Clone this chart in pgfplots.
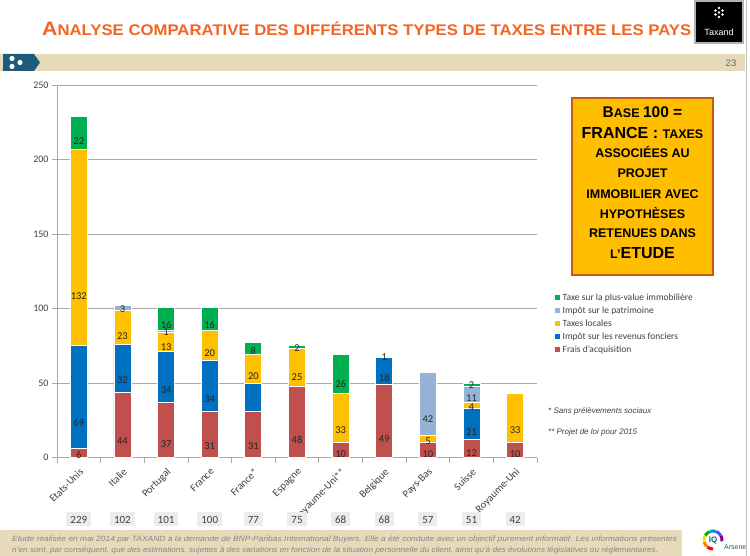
\documentclass[border=0pt]{standalone}
\usepackage{pgfplots}
\usepackage{pgfplotstable}
\pgfplotsset{compat=1.18}
\usepackage{fontspec}
\setmainfont{Carlito}
\newfontfamily\arialf{Liberation Sans}
\definecolor{cred}{RGB}{192,80,77}
\definecolor{cblue}{RGB}{0,112,192}
\definecolor{cyel}{RGB}{255,192,0}
\definecolor{clight}{RGB}{149,179,215}
\definecolor{cgreen}{RGB}{0,176,80}
\definecolor{gridc}{RGB}{170,170,170}
\definecolor{ttl}{RGB}{242,101,34}
\definecolor{beige}{RGB}{230,218,186}
\definecolor{tealc}{RGB}{28,92,122}
\definecolor{boxfill}{RGB}{255,190,0}
\definecolor{boxdraw}{RGB}{200,90,20}
\definecolor{txt}{RGB}{64,64,64}
\definecolor{foot}{RGB}{135,135,135}
\definecolor{pgnum}{RGB}{90,110,110}
\newcommand\fs[1]{\fontsize{#1bp}{#1bp}\selectfont}
\newsavebox\mybox
\newlength\mylen
\newcommand\fitx[2]{\sbox\mybox{#2}\setlength\mylen{\wd\mybox}\pgfmathsetmacro\myfx{#1/\mylen}\scalebox{\myfx}[1]{\usebox\mybox}}

\pgfplotstableread{
x v lab
0 6 6
1 44 44
2 37 37
3 31 31
4 31 31
5 48 48
6 10 10
7 49 49
8 10 10
9 12 12
10 10 10
}\tred
\pgfplotstableread{
x v lab
0 69 69
1 32 32
2 34 34
3 34 34
4 18.5 {}
5 0 {}
6 0 {}
7 18 18
8 0 {}
9 21 21
10 0 {}
}\tblue
\pgfplotstableread{
x v lab
0 132 132
1 23 23
2 13 13
3 20 20
4 20 20
5 25 25
6 33 33
7 1 1
8 5 5
9 4 4
10 33 33
}\tyel
\pgfplotstableread{
x v lab
0 0 {}
1 3 3
2 1 1
3 0 {}
4 0 {}
5 0 {}
6 0 {}
7 0 {}
8 42 42
9 11 11
10 0 {}
}\tlight
\pgfplotstableread{
x v lab
0 22 22
1 0 {}
2 16 16
3 16 16
4 8 8
5 2 2
6 26 26
7 0 {}
8 0 {}
9 2 2
10 0 {}
}\tgreen
\pgfplotstableread{
x y lab
0 -41.3 229
1 -41.3 102
2 -41.3 101
3 -41.3 100
4 -41.3 77
5 -41.3 75
6 -41.3 68
7 -41.3 68
8 -41.3 57
9 -41.3 51
10 -41.3 42
}\ttot

\begin{document}
\begin{tikzpicture}
\begin{scope}[x=1bp,y=-1bp]
\path[use as bounding box] (0,0) rectangle (750,556);
\fill[white] (0,0) rectangle (750,556);
% title
\node[anchor=base west, inner sep=0, text=ttl, font=\arialf\bfseries] at (42,36)
  {\fitx{649bp}{\fs{19.5}A\fs{15.4}NALYSE COMPARATIVE DES DIFFÉRENTS TYPES DE TAXES ENTRE LES PAYS}};
% Taxand logo
\fill[black] (695,1) rectangle (743,43);
\draw[gray!60, line width=1.2] (695,1) rectangle (743,43);
\foreach \dx/\dy in {0/-5,-3.5/-2.5,3.5/-2.5,-3.5/1.5,3.5/1.5,0/4,0/-0.5}{\fill[white] (719+\dx,13+\dy) circle (1.3);}
\node[text=white, font=\arialf\fs{9}, inner sep=0] at (719,32) {Taxand};
% band
\fill[beige] (0,54) rectangle (745,71);
\fill[tealc] (3,54) -- (34,54) -- (40,62.5) -- (34,71) -- (3,71) -- cycle;
\fill[white] (12,58.5) circle (2.6) (12,66.5) circle (2.6) (20,62.5) circle (2.6);
\node[text=pgnum, font=\arialf\fs{9.5}, inner sep=0] at (731,63.5) {23};
% right border
\draw[gray!50, line width=1] (746.5,0) -- (746.5,556);
% orange box
\draw[boxdraw, line width=2, fill=boxfill] (572,98) rectangle (713,275);
\begin{scope}[every node/.style={anchor=base, inner sep=0, font=\arialf\bfseries, text=black}]
\node at (642.5,118) {\fs{15.5}B\fs{12.5}ASE \fs{15.5}100 =};
\node at (642.5,138.5) {\fs{16}FRANCE : \fs{12.5}TAXES};
\node at (642.5,158) {\fs{12.5}ASSOCIÉES AU};
\node at (642.5,178) {\fs{12.5}PROJET};
\node at (642.5,198.5) {\fs{12.5}IMMOBILIER AVEC};
\node at (642.5,218.5) {\fs{12.5}HYPOTHÈSES};
\node at (642.5,238) {\fs{12.5}RETENUES DANS};
\node at (642.5,258.5) {\fs{12.5}L’\fs{16}ETUDE};
\end{scope}
% footnotes
\node[anchor=west, inner sep=0, font=\arialf\itshape\fs{8}, text=txt] at (548,411) {* Sans prélèvements sociaux};
\node[anchor=west, inner sep=0, font=\arialf\itshape\fs{8}, text=txt] at (548,432) {** Projet de loi pour 2015};
% footer
\fill[beige] (0,530) rectangle (682,556);
\node[anchor=base west, inner sep=0, font=\arialf\itshape\fs{7.6}, text=foot] at (12,541.5)
  {\fitx{665bp}{Etude réalisée en mai 2014 par TAXAND à la demande de BNP-Paribas International Buyers. Elle a été conduite avec un objectif purement informatif. Les informations présentes}};
\node[anchor=base west, inner sep=0, font=\arialf\itshape\fs{7.6}, text=foot] at (12,552)
  {\fitx{646bp}{n’en sont, par conséquent, que des estimations, sujettes à des variations en fonction de la situation personnelle du client, ainsi qu’à des évolutions législatives ou réglementaires.}};
% Arsene logo
\foreach \a/\c in {90/red,130/orange,170/yellow!80!orange,210/green!70!black,250/cyan!70!blue,290/blue!70,330/violet}{
  \draw[\c, line width=3] (713,540) ++(\a:9) arc[start angle=\a, end angle=\a+38, radius=9];}
\node[text=tealc, font=\arialf\bfseries\fs{8}, inner sep=0] at (713,540) {IQ};
\node[text=tealc, font=\arialf\fs{7}, inner sep=0, anchor=west] at (724,547) {Arsene};
\end{scope}

\begin{axis}[
  at={(57bp,-457.5bp)}, anchor=south west,
  scale only axis, width=480bp, height=372.5bp,
  xmin=-0.5, xmax=10.5, ymin=0, ymax=250,
  ybar stacked, bar width=17bp,
  axis x line*=bottom, axis y line*=left,
  axis line style={gridc, line width=0.8bp},
  ytick={0,50,...,250},
  ymajorgrids, grid style={gridc, line width=0.8bp},
  xtick={-0.5,0.5,...,10.5},
  x tick label as interval,
  xticklabels={Etats-Unis,Italie,Portugal,France,France*,Espagne,Royaume-Uni**,Belgique,Pays-Bas,Suisse,Royaume-Uni},
  tick align=outside, major tick length=5bp,
  tick style={gridc, line width=0.8bp},
  yticklabel style={font=\fs{10}, text=txt},
  xticklabel style={font=\fs{10.5}, text=txt, rotate=45, anchor=north east},
  /pgf/number format/assume math mode=true,
  point meta=explicit symbolic,
  nodes near coords={\pgfplotspointmeta},
  visualization depends on={\thisrow{v} \as \segv},
  every node near coord/.append style={anchor=center, font=\fs{10.5}, text=black!85, shift={(axis direction cs:0,-\segv/4)}},
  legend style={at={(1.0365,0.447)}, anchor=north west, draw=none, fill=none, inner sep=0pt, outer sep=0pt,
     row sep=0bp, font=\fs{9.5}, text=txt, legend cell align=left,
     /tikz/every odd column/.append style={column sep=1.5bp},
     nodes={inner xsep=1.5bp, inner ysep=1.25bp, text height=8bp, text depth=2.5bp}},
  reverse legend,
  legend image code/.code={\fill[#1, draw=none] (0bp,-2.6bp) rectangle (5.2bp,2.6bp);},
  clip=false,
]
\addplot[fill=cred, draw=white, line width=0.8bp] table[x=x,y=v,meta=lab]{\tred};
\addlegendentry{Frais d’acquisition}
\addplot[fill=cblue, draw=white, line width=0.8bp] table[x=x,y=v,meta=lab]{\tblue};
\addlegendentry{Impôt sur les revenus fonciers}
\addplot[fill=cyel, draw=white, line width=0.8bp] table[x=x,y=v,meta=lab]{\tyel};
\addlegendentry{Taxes locales}
\addplot[fill=clight, draw=white, line width=0.8bp] table[x=x,y=v,meta=lab]{\tlight};
\addlegendentry{Impôt sur le patrimoine}
\addplot[fill=cgreen, draw=white, line width=0.8bp] table[x=x,y=v,meta=lab]{\tgreen};
\addlegendentry{Taxe sur la plus-value immobilière}
\end{axis}

\begin{axis}[
  at={(57bp,-457.5bp)}, anchor=south west,
  scale only axis, width=480bp, height=372.5bp,
  xmin=-0.5, xmax=10.5, ymin=0, ymax=250,
  hide axis, clip=false,
]
\addplot[draw=none, mark=none, point meta=explicit symbolic, nodes near coords={\pgfplotspointmeta},
  every node near coord/.append style={anchor=center, fill=gray!15, font=\fs{11}, text=txt, inner xsep=4bp,
    inner ysep=0bp, minimum height=14bp, text height=8bp, text depth=0bp}]
  table[x=x,y=y,meta=lab]{\ttot};
\end{axis}
\end{tikzpicture}
\end{document}
